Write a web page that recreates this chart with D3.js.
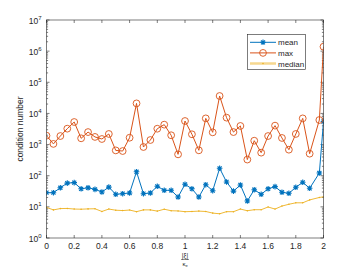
<!DOCTYPE html>
<html>
<head>
<meta charset="utf-8">
<script src="https://cdn.jsdelivr.net/npm/d3@7"></script>
<style>
	body{margin:0;background:#fff;}
	svg{display:block;font-family:'Liberation Sans', Arial, sans-serif;}
</style>
</head>
<body>
<div id="chart"></div>
<script>
// x positions of the samples (|xi| / kappa_e)
const xVals = [0, 0.05, 0.1, 0.15, 0.2, 0.25, 0.3, 0.35, 0.4, 0.45,
	0.5, 0.55, 0.6, 0.65, 0.7, 0.75, 0.8, 0.85, 0.9, 0.95,
	1.0, 1.05, 1.1, 1.15, 1.2, 1.25, 1.3, 1.35, 1.4, 1.45,
	1.5, 1.55, 1.6, 1.65, 1.7, 1.75, 1.8, 1.85, 1.9, 1.97, 2.0];
const meanVals = [28.5, 28.5, 41, 58, 60, 38, 41, 36.5, 30, 43,
	25.3, 26.5, 27.9, 134, 26.5, 27.9, 45.7, 34, 34, 20.7,
	53, 38, 20.7, 51.5, 33, 173, 63, 32, 50.4, 15.4,
	35.5, 25.3, 38, 44.5, 29.4, 27.2, 42.4, 61.5, 39.4, 122, 5500];
const maxVals = [1930, 1050, 1880, 3240, 5300, 1590, 2520, 1760, 1510, 2190,
	650, 620, 1660, 21000, 835, 1400, 3230, 4360, 1990, 485,
	5710, 2140, 654, 6940, 2470, 36300, 7320, 2520, 3960, 330,
	1330, 550, 1880, 4060, 1630, 685, 2190, 6940, 510, 6150, 1.39e6];
const medianVals = [9.6, 8.0, 8.8, 8.9, 8.5, 8.4, 8.6, 8.7, 7.1, 8.5,
	7.8, 7.6, 7.9, 7.0, 8.0, 8.0, 7.3, 8.4, 7.5, 7.4,
	7.0, 7.1, 7.3, 7.1, 6.3, 6.0, 7.0, 7.0, 8.5, 7.5,
	8.1, 8.1, 9.9, 8.5, 10.6, 12.1, 13.5, 13.5, 16.7, 20, 21];
const xTicks = [0, 0.2, 0.4, 0.6, 0.8, 1, 1.2, 1.4, 1.6, 1.8, 2];
const yExponents = [0, 1, 2, 3, 4, 5, 6, 7];
const seriesNames = ['mean', 'max', 'median'];

function ConditionChart(divElement){
	let wSvg = 357,
		hSvg = 268,
		margin = {top:20, right:33.5, bottom:30, left:46.5},
		axisColor = '#262626',
		colors = {mean:'#0072BD', max:'#D95319', median:'#EDB120'};

	const scaleX = d3.scaleLinear().domain([0, 2]).range([margin.left, wSvg - margin.right]);
	const scaleY = d3.scaleLog().domain([1, 1e7]).range([hSvg - margin.bottom, margin.top]);

	let svg = divElement.append('svg').attr('width', wSvg).attr('height', hSvg);

	// minor log ticks for left and right
	let minorTicks = [];
	yExponents.slice(0, -1).forEach(function(e){
		for(let k = 2; k < 10; k++){
			minorTicks.push(k * Math.pow(10, e));
		}
	});

	let x0 = scaleX.range()[0], x1 = scaleX.range()[1],
		y0 = scaleY.range()[0], y1 = scaleY.range()[1];

	let tickG = svg.append('g').attr('stroke', axisColor).attr('stroke-width', 0.6);
	xTicks.forEach(function(t){
		let px = scaleX(t);
		tickG.append('line').attr('x1', px).attr('x2', px).attr('y1', y0).attr('y2', y0 - 3);
		tickG.append('line').attr('x1', px).attr('x2', px).attr('y1', y1).attr('y2', y1 + 3);
	});
	yExponents.forEach(function(e){
		let py = scaleY(Math.pow(10, e));
		tickG.append('line').attr('x1', x0).attr('x2', x0 + 3).attr('y1', py).attr('y2', py);
		tickG.append('line').attr('x1', x1).attr('x2', x1 - 3).attr('y1', py).attr('y2', py);
	});
	minorTicks.forEach(function(v){
		let py = scaleY(v);
		tickG.append('line').attr('x1', x0).attr('x2', x0 + 1.6).attr('y1', py).attr('y2', py);
		tickG.append('line').attr('x1', x1).attr('x2', x1 - 1.6).attr('y1', py).attr('y2', py);
	});

	// tick labels
	xTicks.forEach(function(t){
		svg.append('text')
			.attr('x', scaleX(t)).attr('y', y0 + 11)
			.attr('text-anchor', 'middle')
			.attr('font-size', 8.5).attr('fill', axisColor)
			.text(t);
	});
	yExponents.forEach(function(e){
		let txt = svg.append('text')
			.attr('x', x0 - 5).attr('y', scaleY(Math.pow(10, e)) + 3.5)
			.attr('text-anchor', 'end')
			.attr('font-size', 8.5).attr('fill', axisColor);
		txt.append('tspan').text('10');
		txt.append('tspan').attr('dy', -4).attr('font-size', 6).text(e);
	});

	// axis labels
	svg.append('text')
		.attr('transform', 'translate(23,' + ((y0 + y1) / 2) + ') rotate(-90)')
		.attr('text-anchor', 'middle')
		.attr('font-size', 8.5).attr('fill', axisColor)
		.text('condition number');
	let xl = scaleX(1);
	svg.append('text').attr('x', xl).attr('y', 257.5).attr('text-anchor', 'middle')
		.attr('font-size', 6.5).attr('fill', axisColor).text('|ξ|');
	svg.append('line').attr('x1', xl - 4).attr('x2', xl + 4).attr('y1', 259.5).attr('y2', 259.5)
		.attr('stroke', axisColor).attr('stroke-width', 0.5);
	let kap = svg.append('text').attr('x', xl).attr('y', 265.5).attr('text-anchor', 'middle')
		.attr('font-size', 6).attr('fill', axisColor);
	kap.append('tspan').text('κ');
	kap.append('tspan').attr('dy', 1.5).attr('font-size', 4).text('e');

	// plot clip
	svg.append('clipPath').attr('id', 'plotClip').append('rect')
		.attr('x', x0).attr('y', y1).attr('width', x1 - x0).attr('height', y0 - y1);

	const line = d3.line().x(d => scaleX(d[0])).y(d => scaleY(d[1]));
	let plotG = svg.append('g').attr('clip-path', 'url(#plotClip)');

	function pairs(vals){
		return xVals.map((x, i) => [x, vals[i]]);
	}

	// median
	plotG.append('path').datum(pairs(medianVals)).attr('d', line)
		.attr('fill', 'none').attr('stroke', colors.median).attr('stroke-width', 0.9);
	plotG.selectAll('.medDot').data(pairs(medianVals)).enter().append('circle')
		.attr('cx', d => scaleX(d[0])).attr('cy', d => scaleY(d[1])).attr('r', 0.8)
		.attr('fill', colors.median);

	// mean
	plotG.append('path').datum(pairs(meanVals)).attr('d', line)
		.attr('fill', 'none').attr('stroke', colors.mean).attr('stroke-width', 1);
	function starPath(cx, cy, r){
		let d = '', a = r * 0.72;
		d += 'M' + (cx - r) + ',' + cy + 'L' + (cx + r) + ',' + cy;
		d += 'M' + cx + ',' + (cy - r) + 'L' + cx + ',' + (cy + r);
		d += 'M' + (cx - a) + ',' + (cy - a) + 'L' + (cx + a) + ',' + (cy + a);
		d += 'M' + (cx - a) + ',' + (cy + a) + 'L' + (cx + a) + ',' + (cy - a);
		return d;
	}
	plotG.selectAll('.meanStar').data(pairs(meanVals)).enter().append('path')
		.attr('d', d => starPath(scaleX(d[0]), scaleY(d[1]), 2.8))
		.attr('stroke', colors.mean).attr('stroke-width', 1.1).attr('fill', 'none');

	// max
	plotG.append('path').datum(pairs(maxVals)).attr('d', line)
		.attr('fill', 'none').attr('stroke', colors.max).attr('stroke-width', 1);
	plotG.selectAll('.maxCirc').data(pairs(maxVals)).enter().append('circle')
		.attr('cx', d => scaleX(d[0])).attr('cy', d => scaleY(d[1])).attr('r', 3.4)
		.attr('fill', 'none').attr('stroke', colors.max).attr('stroke-width', 0.9);

	// box
	svg.append('rect').attr('x', x0).attr('y', y1).attr('width', x1 - x0).attr('height', y0 - y1)
		.attr('fill', 'none').attr('stroke', axisColor).attr('stroke-width', 0.6);

	// legend
	let lg = svg.append('g');
	lg.append('rect').attr('x', 247.5).attr('y', 34.5).attr('width', 58).attr('height', 35)
		.attr('fill', '#fff').attr('stroke', axisColor).attr('stroke-width', 0.6);
	seriesNames.forEach(function(name, i){
		let ly = 42.3 + i * 10.6;
		lg.append('line').attr('x1', 250).attr('x2', 276).attr('y1', ly).attr('y2', ly)
			.attr('stroke', colors[name])
			.attr('stroke-width', name == 'median' ? 2.5 : 1)
			.attr('stroke-opacity', name == 'median' ? 0.5 : 1);
		if(name == 'mean'){
			lg.append('path').attr('d', starPath(263, ly, 2.8))
				.attr('stroke', colors.mean).attr('stroke-width', 1.1);
		}else if(name == 'max'){
			lg.append('circle').attr('cx', 263).attr('cy', ly).attr('r', 3.4)
				.attr('fill', 'none').attr('stroke', colors.max).attr('stroke-width', 0.9);
		}else{
			lg.append('circle').attr('cx', 263).attr('cy', ly).attr('r', 0.8).attr('fill', colors.median);
		}
		lg.append('text').attr('x', 278).attr('y', ly + 3).attr('font-size', 8)
			.attr('fill', axisColor).text(name);
	});
}

ConditionChart(d3.select('#chart'));
</script>
</body>
</html>
